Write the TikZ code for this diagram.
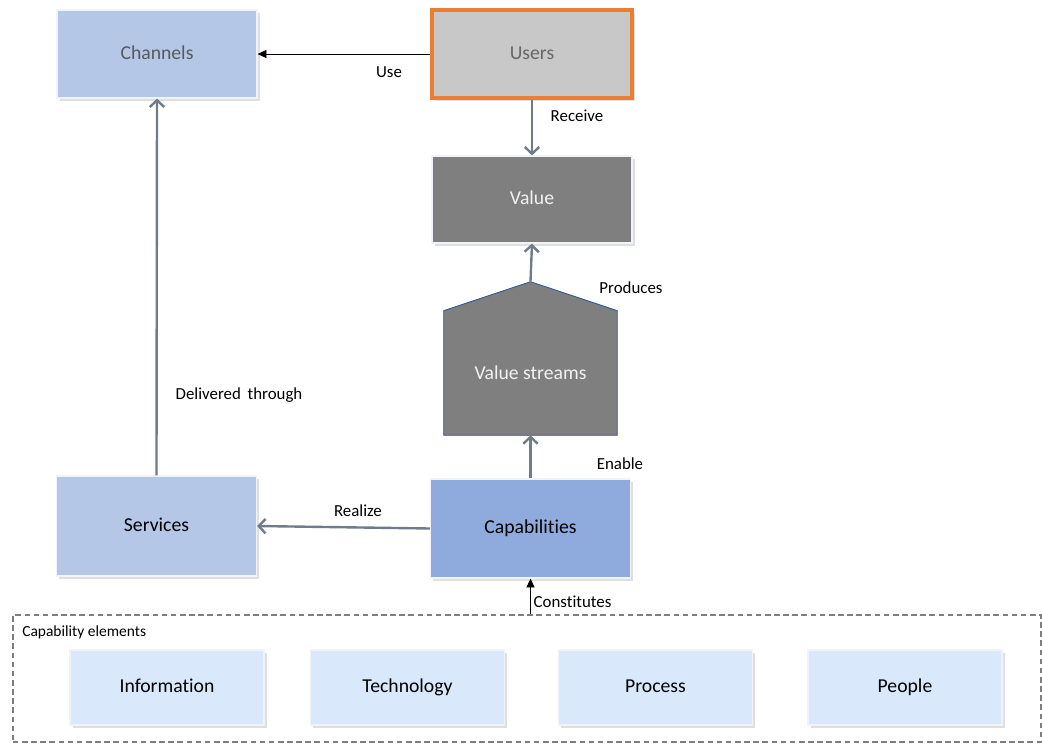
\documentclass[tikz,border=0pt]{standalone}
\usepackage{fontspec}
\setmainfont{Carlito}[Ligatures=NoCommon]
\usetikzlibrary{arrows.meta,shadows,backgrounds}
\definecolor{lightblue}{HTML}{B4C7E7}
\definecolor{midblue}{HTML}{8FAADC}
\definecolor{paleblue}{HTML}{DAE8FC}
\definecolor{usergray}{HTML}{C8C8C8}
\definecolor{darkgray}{HTML}{7F7F7F}
\definecolor{linkgray}{HTML}{6F7C8C}
\definecolor{orangeline}{HTML}{ED7D31}
\definecolor{edgeblue}{HTML}{2F5597}
\tikzset{
  box/.style={draw=white!80!lightblue, line width=0.8pt, minimum width=5cm,
    font=\fontsize{14}{16}\selectfont, text height=0.88em, text depth=0.1em,
    drop shadow={shadow xshift=2pt, shadow yshift=-2pt, opacity=0.25}},
  elembox/.style={box, fill=paleblue, minimum width=4.85cm, minimum height=1.875cm},
  link/.style={draw=linkgray, line width=1.7pt,
    -{Straight Barb[length=1.7mm,width=3.6mm]}},
  thinlink/.style={draw=black, line width=0.5pt, -{Triangle[length=2.2mm,width=2mm]}},
  lbl/.style={font=\fontsize{12}{14}\selectfont}
}
\begin{document}
\begin{tikzpicture}[x=0.025cm, y=-0.025cm]
\useasboundingbox (0,0) rectangle (1042,744);

% upper row
\node[box, fill=lightblue, minimum height=2.2cm, text=black!65] (channels) at (157,54) {Channels};
\node[box, fill=usergray, draw=orangeline, line width=2.3pt, minimum height=2.2cm, text=black!60] (users) at (532,54) {Users};
\node[box, fill=darkgray, text=white!95!black, minimum height=2.175cm] (value) at (532,199.5) {Value};

% value streams
\node[minimum width=4.325cm, minimum height=3.1cm, text=white!95!black,
  font=\fontsize{14}{16}\selectfont] (vs) at (530.5,373) {Value streams};
\coordinate (apex) at ([yshift=0.725cm]vs.north);
\begin{scope}[on background layer]
\draw[draw=edgeblue, fill=darkgray, line width=0.6pt]
  (vs.south west) -- (vs.north west) -- (apex) -- (vs.north east) -- (vs.south east) -- cycle;
\end{scope}

% lower row
\node[box, fill=midblue, minimum height=2.475cm] (capab) at (530.5,528.5) {Capabilities};
\node[box, fill=lightblue, minimum height=2.5cm] (services) at (156.5,526) {Services};

% capability elements
\node[draw=darkgray, line width=1.1pt, dash pattern=on 4pt off 2.5pt,
  minimum width=25.7cm, minimum height=3.175cm] (elems) at (527,678.5) {};
\node[anchor=west, font=\fontsize{11}{13}\selectfont, inner sep=0pt] (elemtitle) at (22,632) {Capability elements};
\node[elembox] (info) at (167,687.5) {Information};
\node[elembox] (tech) at (407.5,687.5) {Technology};
\node[elembox] (proc) at (655.5,687.5) {Process};
\node[elembox] (people) at (905,687.5) {People};

% connectors
\draw[thinlink] (users.west) -- (channels.east);
\node[lbl] (uselbl) at (389,72) {Use};
\draw[link] (users.south) -- (value.north);
\node[lbl] (recvlbl) at (577,116) {Receive};
\draw[link] (apex) -- (value.south);
\node[lbl] (prodlbl) at (631,288) {Produces};
\draw[link] (capab.north -| vs.south) -- (vs.south);
\node[lbl] (enlbl) at (620,464) {Enable};
\draw[link] (capab.west) -- (services.east);
\node[lbl] (reallbl) at (358,511) {Realize};
\draw[link] (services.north) -- (channels.south);
\node[lbl] (dellbl) at (239,395) {Delivered\, through};
\draw[thinlink] (elems.north -| capab.south) -- (capab.south);
\node[lbl, anchor=west, inner sep=1pt] (conlbl) at (532,602) {Constitutes};
\end{tikzpicture}
\end{document}
